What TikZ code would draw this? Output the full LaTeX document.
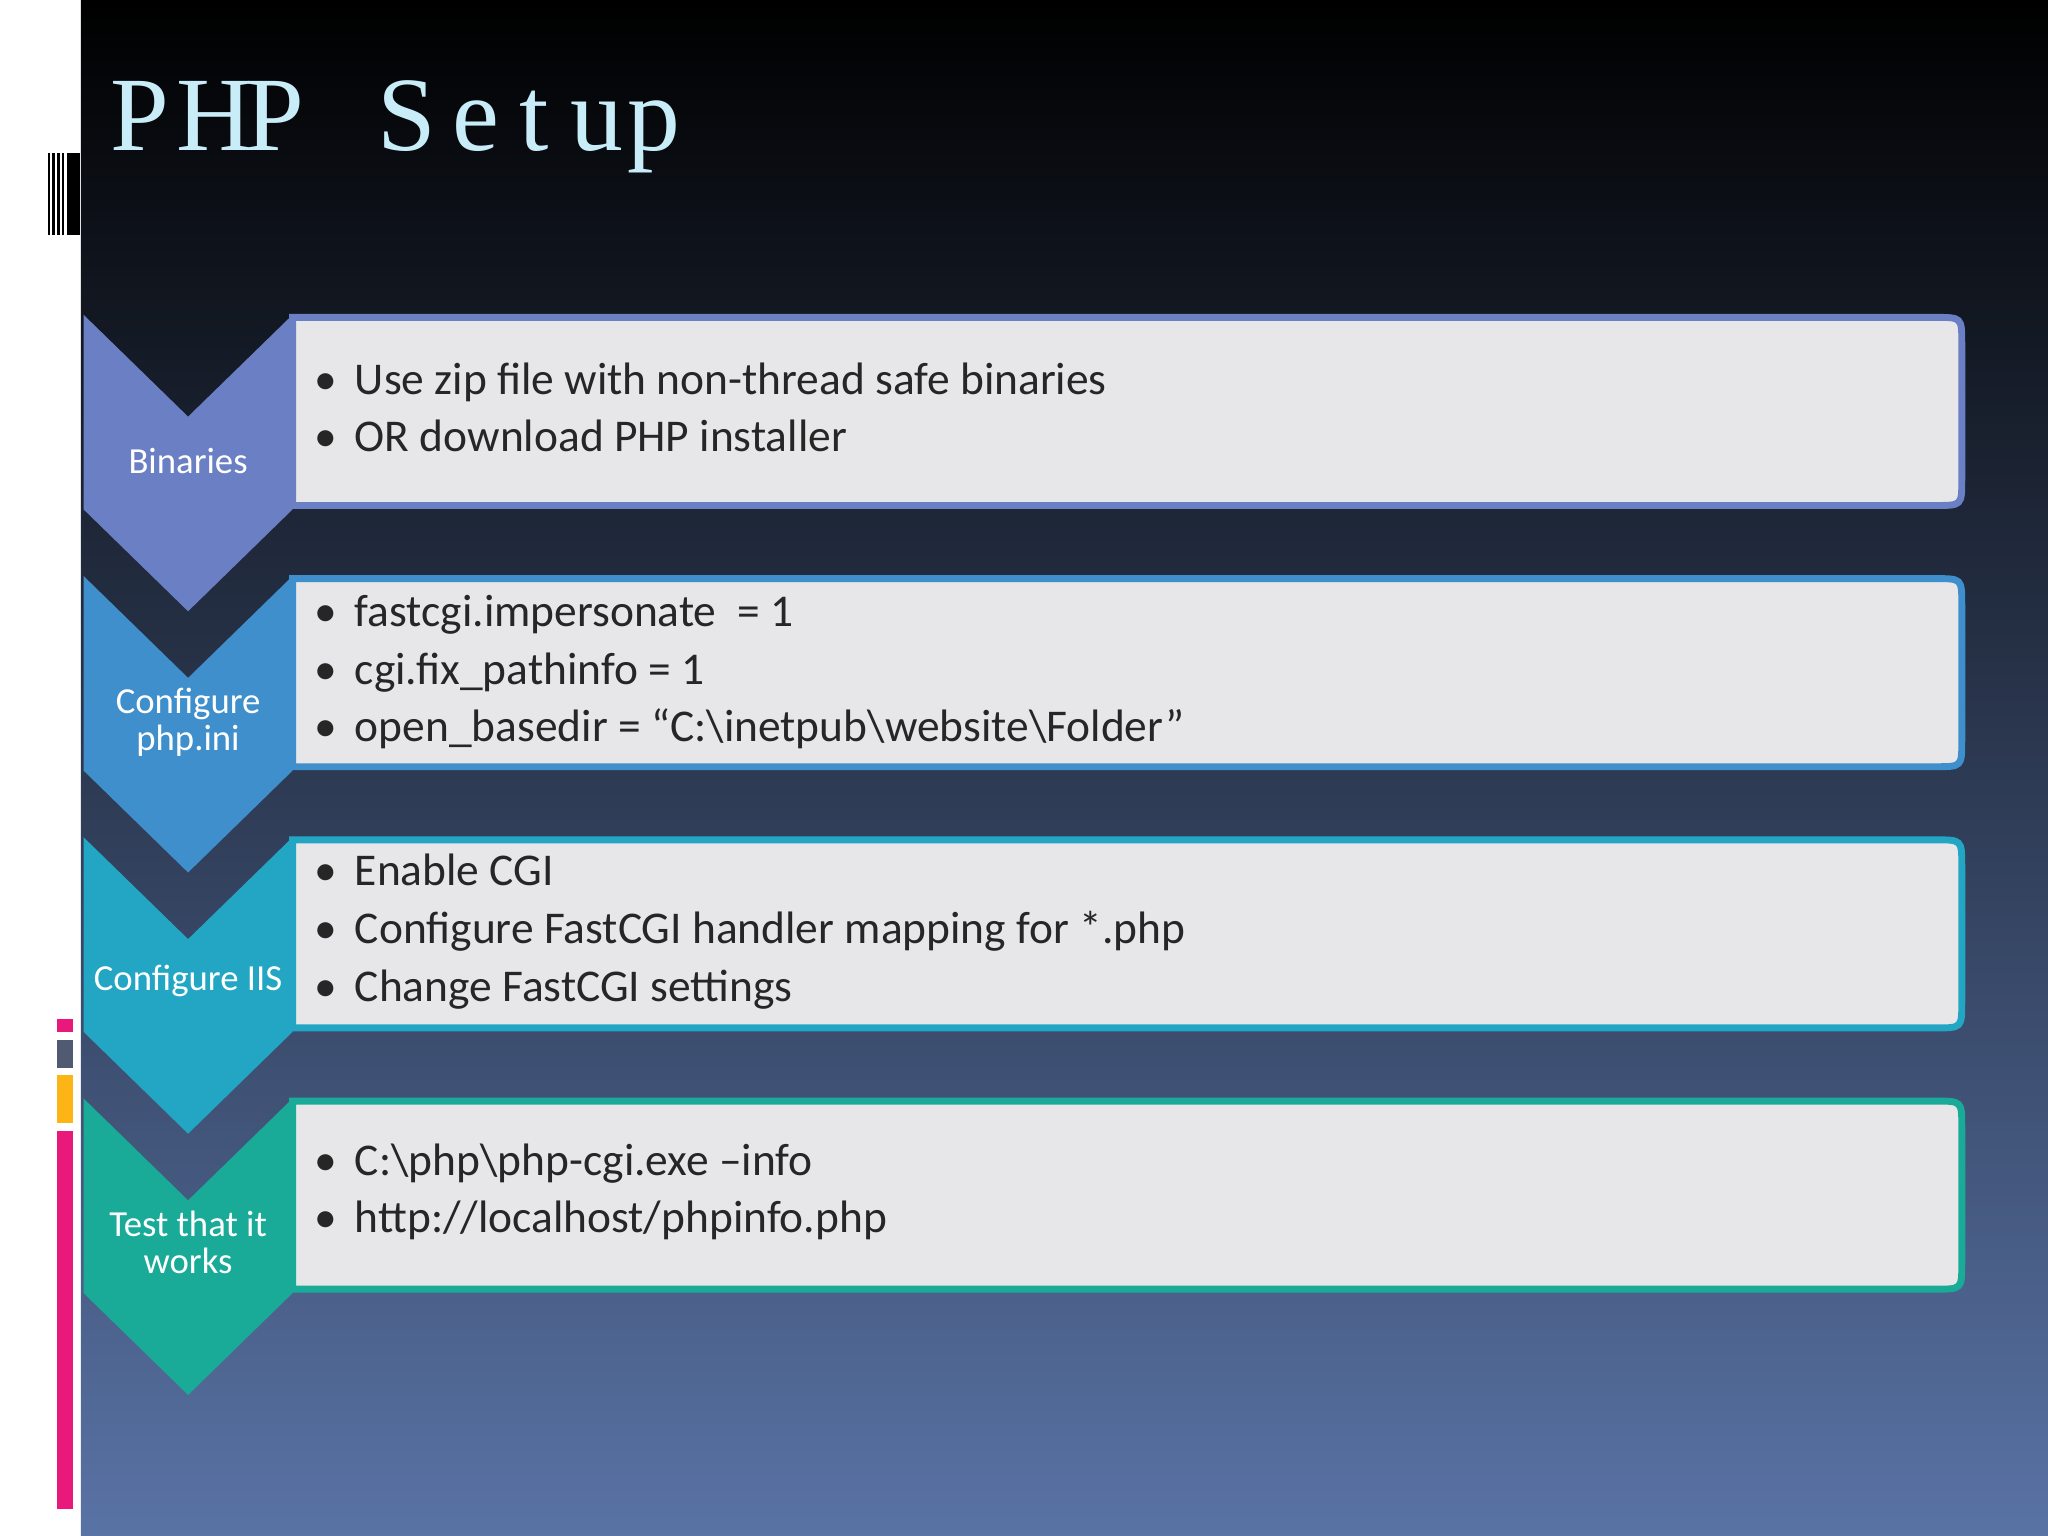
\documentclass[tikz,border=0pt]{standalone}
\usepackage{fontspec}
\newfontfamily\bodyfont{Carlito}
\newfontfamily\titlefont{Liberation Serif}
\definecolor{cA}{HTML}{6A7FC4}
\definecolor{cB}{HTML}{3F8FCC}
\definecolor{cC}{HTML}{22A6C4}
\definecolor{cD}{HTML}{19AB98}
\definecolor{boxfill}{HTML}{E7E7EA}
\definecolor{bgbot}{HTML}{5973A5}
\definecolor{bgmid}{HTML}{2C3750}
\definecolor{ttl}{HTML}{C8ECF8}
\definecolor{pinkbar}{HTML}{E9197B}
\definecolor{graybar}{HTML}{505A70}
\definecolor{orangebar}{HTML}{FDB515}
\begin{document}
\begin{tikzpicture}[x=0.1mm,y=-0.1mm,
  lbl/.style={text=white,font=\bodyfont\fontsize{8pt}{9pt}\selectfont,align=center},
  itm/.style={anchor=base west,font=\bodyfont\fontsize{9.9pt}{11pt}\selectfont,text=black!85,inner sep=0pt},
  bul/.style={anchor=base west,font=\bodyfont\fontsize{9.9pt}{11pt}\selectfont,text=black!85,inner sep=0pt}]
\useasboundingbox (0,0) rectangle (1568,1176);
\fill[white] (0,0) rectangle (1568,1176);
\shade[top color=black,middle color=bgmid,bottom color=bgbot] (62,0) rectangle (1568,1176);
% barcode
\fill[black] (37,117) rectangle (38.5,180);
\fill[black] (40,117) rectangle (42,180);
\fill[black] (44,117) rectangle (46,180);
\fill[black] (47.5,117) rectangle (49,180);
\fill[black] (51,117) rectangle (61,180);
% colour bars
\fill[pinkbar] (44,780) rectangle (56,790);
\fill[graybar] (44,796) rectangle (56,818);
\fill[orangebar] (44,823) rectangle (56,860);
\fill[pinkbar] (44,866) rectangle (56,1155);
% title
\node[anchor=base west,text=ttl,inner sep=0pt,font=\titlefont\fontsize{23pt}{25pt}\selectfont] (title) at (84,115)
 {P\hspace{1.5pt}H\hspace{-1.5pt}P\hspace{16pt}S\hspace{3.5pt}e\hspace{4.5pt}t\hspace{4.5pt}u\hspace{1pt}p};
% boxes and chevrons
\foreach \i/\c in {0/cA,1/cB,2/cC,3/cD}{
  \pgfmathsetmacro\t{241+200*\i}
  \draw[\c,line width=1.5pt,fill=boxfill] (224,\t+2) -- (1482,\t+2) .. controls (1502,\t+2) .. (1502,\t+22) -- (1502,\t+126) .. controls (1502,\t+146) .. (1482,\t+146) -- (224,\t+146) -- cycle;
  \fill[\c] (64,\t) -- (144,\t+78) -- (224,\t) -- (224,\t+149) -- (144,\t+227) -- (64,\t+149) -- cycle;
}
\node[lbl] (l1) at (144,353) {Binaries};
\node[lbl] (l2) at (144,553) {Configure\\[-1pt]php.ini};
\node[lbl] (l3) at (144,751) {Configure IIS};
\node[lbl] (l4) at (144,951) {Test that it\\[-1pt]works};
% items
\foreach \y/\tx [count=\k] in {
 302/{Use zip file with non-thread safe binaries},
 346/{OR download PHP installer},
 480/{fastcgi.impersonate {} = 1},
 524/{cgi.fix\_pathinfo = 1},
 568/{open\_basedir = “C:\textbackslash inetpub\textbackslash website\textbackslash Folder”},
 678/{Enable CGI},
 722/{Configure FastCGI handler mapping for *.php},
 767/{Change FastCGI settings},
 900/{C:\textbackslash php\textbackslash php-cgi.exe –info},
 944/{http://localhost/phpinfo.php}}{
  \node[bul] (b\k) at (240,\y) {•};
  \node[itm] (t\k) at (271,\y) {\tx};
}
\end{tikzpicture}
\end{document}
